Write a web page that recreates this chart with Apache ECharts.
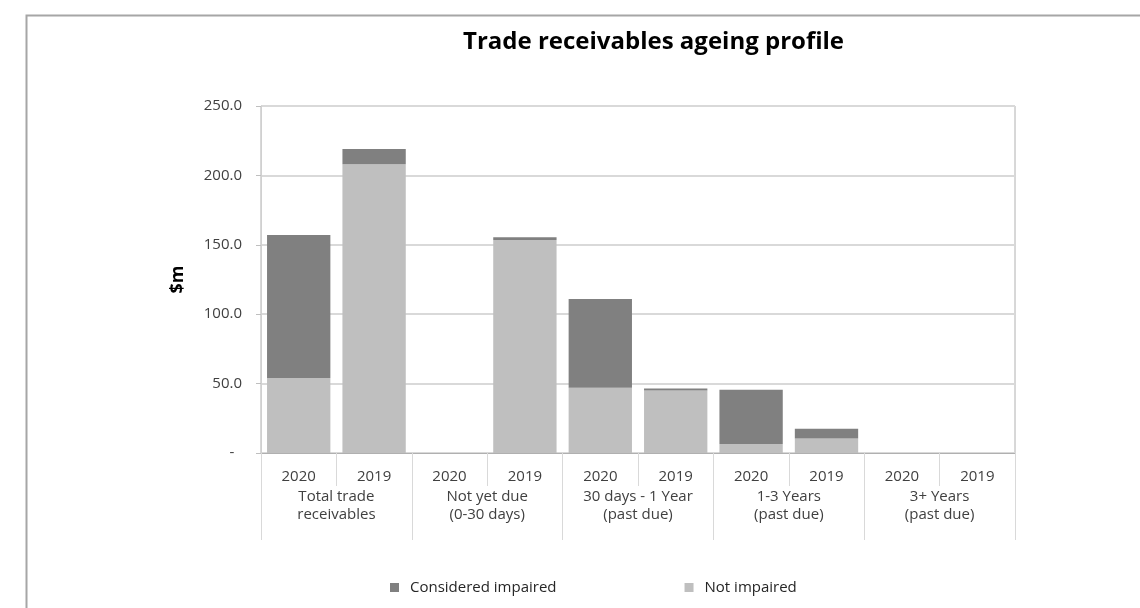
<!DOCTYPE html>
<html>
<head>
<meta charset="utf-8">
<script src="https://cdn.jsdelivr.net/npm/echarts@6/dist/echarts.min.js"></script>
<style>
html,body{margin:0;padding:0;background:#fff;}
#chart{width:1140px;height:608px;}
</style>
</head>
<body>
<div id="chart"></div>
<script>
const years = ['2020','2019','2020','2019','2020','2019','2020','2019','2020','2019'];
const groups = ['Total trade\nreceivables','Not yet due\n(0-30 days)','30 days - 1 Year\n(past due)','1-3 Years\n(past due)','3+ Years\n(past due)'];
const notImpaired = [54, 208, 0, 153.5, 47, 45, 6.5, 10.5, 0, 0];
const impaired = [103, 11, 0, 2, 64, 1.5, 39, 7, 0, 0];

const FONT = 'Open Sans';
const chart = echarts.init(document.getElementById('chart'));
chart.setOption({
  animation: false,
  backgroundColor: '#fff',
  textStyle: {fontFamily: FONT},
  graphic: [{
    type: 'rect', left: 24, top: 13, z: -1,
    shape: {x: 0, y: 0, width: 1140, height: 700},
    style: {fill: 'none', stroke: '#a6a6a6', lineWidth: 2}
  }],
  title: {
    text: 'Trade receivables ageing profile',
    left: 458, top: 25,
    textStyle: {fontFamily: FONT, fontWeight: 'bold', fontSize: 24, color: '#000'}
  },
  legend: {
    left: 385, top: 575,
    icon: 'rect', itemWidth: 9, itemHeight: 9, itemGap: 128,
    data: ['Considered impaired', 'Not impaired'],
    textStyle: {fontFamily: FONT, fontSize: 15, color: '#262626', padding: [0, 0, 0, 6]}
  },
  grid: {
    left: 261, right: 125, top: 106, bottom: 155,
    show: true, borderColor: '#b0b0b0', borderWidth: 1
  },
  xAxis: [{
    type: 'category', data: years, position: 'bottom',
    axisLine: {show: true, lineStyle: {color: '#b0b0b0'}},
    axisTick: {show: true, length: 33, alignWithLabel: false, lineStyle: {color: '#d9d9d9'}},
    axisLabel: {margin: 16, fontSize: 15, color: '#404040', fontFamily: FONT, interval: 0}
  }, {
    type: 'category', data: groups, position: 'bottom',
    axisLine: {show: false},
    axisTick: {show: true, length: 87, alignWithLabel: false, lineStyle: {color: '#d9d9d9'}},
    axisLabel: {margin: 35, fontSize: 15, lineHeight: 18, color: '#404040', fontFamily: FONT, interval: 0}
  }],
  yAxis: {
    type: 'value', min: 0, max: 250, interval: 50,
    name: '$m', nameLocation: 'middle', nameGap: 74, nameRotate: 90,
    nameTextStyle: {fontFamily: FONT, fontWeight: 'bold', fontSize: 18, color: '#000'},
    axisLine: {show: true, lineStyle: {color: '#d0d0d0'}},
    axisTick: {show: true, length: 5, lineStyle: {color: '#bfbfbf'}},
    axisLabel: {
      margin: 19, fontSize: 15, color: '#404040', fontFamily: FONT,
      formatter: v => v === 0 ? '-  ' : v.toFixed(1)
    },
    splitLine: {lineStyle: {color: '#d9d9d9', width: 2}}
  },
  series: [{
    name: 'Not impaired', type: 'bar', stack: 'a', data: notImpaired,
    barCategoryGap: '16%', itemStyle: {color: '#bfbfbf'}
  }, {
    name: 'Considered impaired', type: 'bar', stack: 'a', data: impaired,
    barCategoryGap: '16%', itemStyle: {color: '#808080'}
  }]
});
</script>
</body>
</html>
